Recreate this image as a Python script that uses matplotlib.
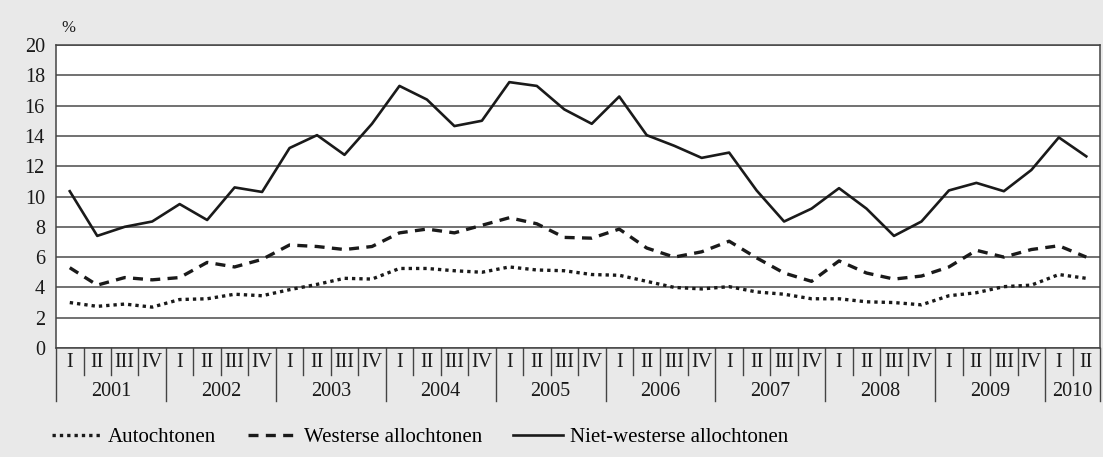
import matplotlib.pyplot as plt
import numpy as np

plt.rcParams['font.family'] = ['Liberation Serif', 'DejaVu Serif']

# quarterly data, 2001 Q1 .. 2010 Q2
years = ['2001', '2002', '2003', '2004', '2005', '2006', '2007', '2008', '2009', '2010']
quarters = ['I', 'II', 'III', 'IV']
n_quarters = [4, 4, 4, 4, 4, 4, 4, 4, 4, 2]

autochtonen = [3.0, 2.75, 2.9, 2.7, 3.2, 3.25, 3.55, 3.45, 3.85, 4.2, 4.6, 4.55,
               5.25, 5.25, 5.1, 5.0, 5.35, 5.15, 5.1, 4.85, 4.8, 4.4, 4.0, 3.9,
               4.05, 3.7, 3.55, 3.25, 3.25, 3.05, 3.0, 2.85, 3.45, 3.65, 4.05, 4.15,
               4.85, 4.6]
westers = [5.3, 4.15, 4.65, 4.5, 4.65, 5.65, 5.35, 5.85, 6.8, 6.7, 6.5, 6.7,
           7.6, 7.85, 7.6, 8.1, 8.6, 8.2, 7.3, 7.25, 7.85, 6.6, 6.0, 6.35,
           7.05, 5.95, 4.95, 4.4, 5.75, 4.95, 4.55, 4.75, 5.35, 6.45, 6.0, 6.5,
           6.75, 6.0]
niet_westers = [10.35, 7.4, 8.0, 8.35, 9.5, 8.45, 10.6, 10.3, 13.2, 14.05, 12.75, 14.8,
                17.3, 16.4, 14.65, 15.0, 17.55, 17.3, 15.75, 14.8, 16.6, 14.05, 13.35, 12.55,
                12.9, 10.4, 8.35, 9.2, 10.55, 9.2, 7.4, 8.35, 10.4, 10.9, 10.35, 11.75,
                13.9, 12.65]

x = np.arange(len(niet_westers))
ink = '#1a1a1a'

fig = plt.figure(figsize=(11.03, 4.57), dpi=100, facecolor='#e9e9e9')
ax = fig.add_axes([0.0508, 0.2385, 0.9465, 0.663])
ax.set_facecolor('white')

# grid lines
ax.set_ylim(0, 20)
ax.set_xlim(-0.5, len(x) - 0.5)
ax.set_yticks(range(0, 21, 2))
ax.yaxis.grid(True, color='#4a4a4a', lw=1.1)
ax.set_axisbelow(True)
ax.tick_params(axis='y', length=0, labelsize=14.5, pad=8, colors=ink)
ax.set_xticks([])
for s in ax.spines.values():
    s.set_color('#444444')
    s.set_linewidth(1.1)

ax.plot(x, autochtonen, color=ink, lw=2.4, ls=(0, (1, 1.2)), label='Autochtonen')
ax.plot(x, westers, color=ink, lw=2.4, ls=(0, (3, 2.2)), label='Westerse allochtonen')
ax.plot(x, niet_westers, color=ink, lw=1.9, label='Niet-westerse allochtonen')

ax.text(-0.3, 20.6, '%', fontsize=12, color=ink, va='bottom')

# quarter / year axis underneath
tr = ax.get_xaxis_transform()
pos = -0.5
for year, nq in zip(years, n_quarters):
    ax.plot([pos, pos], [0, -0.175], transform=tr, color='#444444', lw=1, clip_on=False)
    for q in range(nq):
        if q > 0:
            ax.plot([pos + q, pos + q], [0, -0.09], transform=tr, color='#444444',
                    lw=1, clip_on=False)
        ax.text(pos + q + 0.5, -0.047, quarters[q], transform=tr, ha='center',
                va='center', fontsize=14.5, color=ink)
    ax.text(pos + nq / 2, -0.142, year, transform=tr, ha='center', va='center',
            fontsize=14.5, color=ink)
    pos += nq
ax.plot([pos, pos], [0, -0.175], transform=tr, color='#444444', lw=1, clip_on=False)

fig.legend(loc='lower left', bbox_to_anchor=(0.03, -0.02), ncol=3, frameon=False,
           fontsize=15, handlelength=2.4, columnspacing=1.5, handletextpad=0.3)

fig.savefig('out.png', dpi=100, facecolor=fig.get_facecolor())
